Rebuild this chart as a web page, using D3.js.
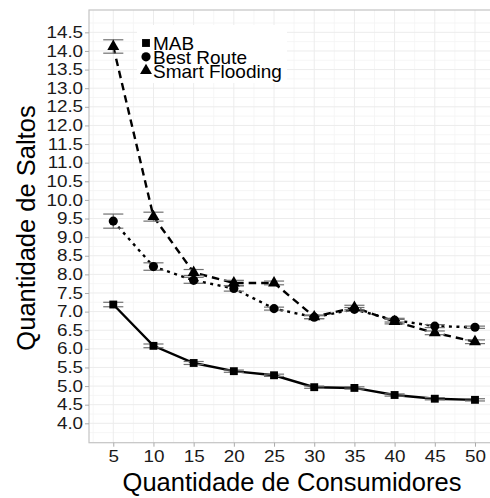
<!DOCTYPE html>
<html><head><meta charset="utf-8">
<script src="https://cdn.jsdelivr.net/npm/d3@7"></script>
<style>body{margin:0;background:#fff}svg{display:block}text{font-family:"Liberation Sans",Arial,sans-serif}</style>
</head><body><svg id="c" width="490" height="498"></svg>
<script>
const consumers = [5,10,15,20,25,30,35,40,45,50];
const mabValues = [7.19,6.08,5.62,5.40,5.29,4.97,4.95,4.76,4.66,4.63];
const mabErrors = [0.06,0.05,0.04,0.03,0.03,0.03,0.03,0.03,0.03,0.03];
const bestRouteValues = [9.43,8.21,7.84,7.62,7.08,6.85,7.06,6.77,6.61,6.58];
const bestRouteErrors = [0.19,0.10,0.08,0.07,0.04,0.04,0.05,0.05,0.04,0.03];
const smartFloodingValues = [14.12,9.55,8.05,7.77,7.77,6.86,7.11,6.73,6.43,6.19];
const smartFloodingErrors = [0.18,0.12,0.08,0.07,0.05,0.05,0.06,0.06,0.05,0.05];
const yTicks = [4.0,4.5,5.0,5.5,6.0,6.5,7.0,7.5,8.0,8.5,9.0,9.5,10.0,10.5,11.0,11.5,12.0,12.5,13.0,13.5,14.0,14.5];
const xTicks = [5,10,15,20,25,30,35,40,45,50];
const seriesNames = ["MAB","Best Route","Smart Flooding"];

const series = [
  {name:seriesNames[0], vals:mabValues, errs:mabErrors, shape:"square", dash:null},
  {name:seriesNames[1], vals:bestRouteValues, errs:bestRouteErrors, shape:"circle", dash:"3,4.5"},
  {name:seriesNames[2], vals:smartFloodingValues, errs:smartFloodingErrors, shape:"triangle", dash:"7.5,5"}
];

const svg = d3.select("#c");
const L=89, R=499.5, T=10, B=442.7;
const x = d3.scaleLinear().domain([1.98,53.05]).range([L,R]);
const y = d3.scaleLinear().domain([3.479,15.1]).range([B,T]);

// grid
const g = svg.append("g");
const yMinor = d3.range(3.75,15.1,0.5);
const xMinor = d3.range(2.5,53,5);
g.selectAll(".ym").data(yMinor).join("line").attr("x1",L).attr("x2",R).attr("y1",d=>y(d)).attr("y2",d=>y(d)).attr("stroke","#f4f4f4").attr("stroke-width",0.8);
g.selectAll(".xm").data(xMinor).join("line").attr("y1",T).attr("y2",B).attr("x1",d=>x(d)).attr("x2",d=>x(d)).attr("stroke","#f4f4f4").attr("stroke-width",0.8);
g.selectAll(".yM").data(yTicks).join("line").attr("x1",L).attr("x2",R).attr("y1",d=>y(d)).attr("y2",d=>y(d)).attr("stroke","#ececec").attr("stroke-width",1);
g.selectAll(".xM").data(xTicks).join("line").attr("y1",T).attr("y2",B).attr("x1",d=>x(d)).attr("x2",d=>x(d)).attr("stroke","#ececec").attr("stroke-width",1);

// legend background
svg.append("rect").attr("x",137).attr("y",25).attr("width",150).attr("height",58).attr("fill","#fff");

// border
svg.append("rect").attr("x",L).attr("y",T).attr("width",R-L).attr("height",B-T).attr("fill","none").attr("stroke","#c4c4c4").attr("stroke-width",1.2);

// axes
const ya = svg.append("g").attr("transform",`translate(${L},0)`).call(d3.axisLeft(y).tickValues(yTicks).tickFormat(d3.format(".1f")).tickSize(4).tickPadding(1));
const xa = svg.append("g").attr("transform",`translate(0,${B})`).call(d3.axisBottom(x).tickValues(xTicks).tickSize(4).tickPadding(4));
[ya,xa].forEach(a=>{a.select(".domain").remove();a.selectAll("line").attr("stroke","#aaa");
  a.selectAll("text").attr("fill","#1a1a1a").style("font-size","16px").style("font-family","'Liberation Sans',Arial,sans-serif").attr("transform","scale(1.18,1)");});

// lines
const line = d3.line().x((d,i)=>x(consumers[i])).y(d=>y(d));
series.forEach(s=>{
  svg.append("path").attr("d",line(s.vals)).attr("fill","none").attr("stroke","#000").attr("stroke-width",2.4)
    .attr("stroke-dasharray",s.dash);
});
// error bars
series.forEach(s=>{
  const eg = svg.append("g").attr("stroke","#707070").attr("stroke-width",1.2);
  s.vals.forEach((v,i)=>{
    const cx=x(consumers[i]), hw=x(1.25)-x(0);
    eg.append("line").attr("x1",cx-hw).attr("x2",cx+hw).attr("y1",y(v+s.errs[i])).attr("y2",y(v+s.errs[i]));
    eg.append("line").attr("x1",cx-hw).attr("x2",cx+hw).attr("y1",y(v-s.errs[i])).attr("y2",y(v-s.errs[i]));
    eg.append("line").attr("x1",cx).attr("x2",cx).attr("y1",y(v+s.errs[i])).attr("y2",y(v-s.errs[i]));
  });
});
// points
const sym = {square:d3.symbol().type(d3.symbolSquare).size(62), circle:d3.symbol().type(d3.symbolCircle).size(66), triangle:d3.symbol().type(d3.symbolTriangle).size(62)};
series.forEach(s=>{
  svg.append("g").selectAll("path").data(s.vals).join("path")
    .attr("transform",(d,i)=>`translate(${x(consumers[i])},${y(d)})`)
    .attr("d",sym[s.shape]()).attr("fill","#000");
});

// legend
const lg = svg.append("g");
series.forEach((s,i)=>{
  const yy = 43 + i*13.8;
  lg.append("path").attr("transform",`translate(146,${yy})`).attr("d",sym[s.shape]()).attr("fill","#000");
  lg.append("text").attr("x",153).attr("y",yy+7).text(s.name).style("font-size","19px").attr("fill","#000");
});

// titles
svg.append("text").attr("x",292).attr("y",491).attr("text-anchor","middle").style("font-size","25.5px").attr("fill","#000").text("Quantidade de Consumidores");
svg.append("text").attr("transform","translate(35,228) rotate(-90)").attr("text-anchor","middle").style("font-size","25.5px").attr("fill","#000").text("Quantidade de Saltos");
</script></body></html>
